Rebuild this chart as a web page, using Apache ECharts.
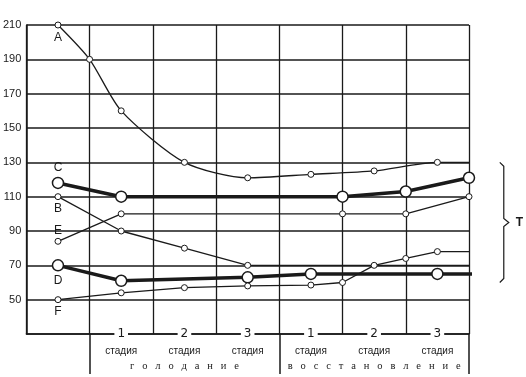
<!DOCTYPE html>
<html>
<head>
<meta charset="UTF-8">
<script src="https://cdn.jsdelivr.net/npm/echarts@6/dist/echarts.min.js"></script>
<style>
  html, body { margin: 0; padding: 0; background: #fff; }
  #gen { width: 526px; height: 377px; }
</style>
</head>
<body>
<div id="gen"></div>
<script>
// x positions are in column units: 0.5 = first column centre, 1 = first grid line, ...
const stagePos = [1.5, 2.5, 3.5, 4.5, 5.5, 6.5];
const stageLabels = ['1', '2', '3', '1', '2', '3'];
const periodPos = [2.5, 5.5];
const periodLabels = ['голодание', 'восстановление'];
const periodBounds = [1, 4, 7];

const xA = [0.5, 1, 1.5, 2.5, 3.5, 4.5, 5.5, 6.5, 7.37];
const yA = [210, 190, 160, 130, 121, 123, 125, 130, 130];
const xC = [0.5, 1.5, 5, 6, 7, 7.37];
const yC = [118, 110, 110, 113, 121, 121];
const xB = [0.5, 1.5, 2.5, 3.5, 7.37];
const yB = [110, 90, 80, 70, 70];
const xE = [0.5, 1.5, 5, 6, 7, 7.37];
const yE = [84, 100, 100, 100, 110, 110];
const xD = [0.5, 1.5, 3.5, 4.5, 6.5, 7.37];
const yD = [70, 61, 63, 65, 65, 65];
const xF = [0.5, 1.5, 2.5, 3.5, 4.5, 5, 5.5, 6, 6.5, 7.37];
const yF = [50, 54, 57, 58, 58.5, 60, 70, 74, 78, 78];

const ink = '#1a1a1a';

function line(name, xs, ys, thick, labelPos, dist, smooth) {
  const data = xs.map(function (x, i) {
    const item = { value: [x, ys[i]] };
    if (x > 7) item.symbol = 'none';
    if (i === 0) {
      item.label = {
        show: true, position: labelPos, distance: dist,
        formatter: name, color: ink, fontSize: 12, fontFamily: 'Liberation Sans'
      };
    }
    return item;
  });
  return {
    type: 'line', name: name, data: data, clip: false, smooth: smooth || false,
    symbol: 'circle', symbolSize: thick ? 11 : 6,
    lineStyle: { color: ink, width: thick ? 3.5 : 1.3 },
    itemStyle: { color: '#fff', borderColor: ink, borderWidth: thick ? 1.5 : 1 },
    z: thick ? 3 : 4,
    animation: false
  };
}

const chart = echarts.init(document.getElementById('gen'));
chart.setOption({
  backgroundColor: '#fff',
  animation: false,
  grid: { left: 25, right: 57, top: 25, bottom: 43 },
  xAxis: [
    {
      type: 'value', min: 0, max: 7, interval: 1,
      axisLine: { show: true, lineStyle: { color: ink, width: 1.5 } },
      axisTick: { show: false },
      splitLine: { show: true, lineStyle: { color: ink, width: 1.3 } },
      axisLabel: {
        show: true, customValues: stagePos, margin: -7,
        showMinLabel: true, showMaxLabel: true,
        formatter: function (v) {
          return '{n|' + stageLabels[stagePos.indexOf(v)] + '}\n{s|стадия}';
        },
        rich: {
          n: { fontSize: 12, color: ink, backgroundColor: '#fff', padding: [0, 3], lineHeight: 14, fontFamily: 'DejaVu Sans' },
          s: { fontSize: 10, color: ink, lineHeight: 21, fontFamily: 'Liberation Sans' }
        }
      }
    },
    {
      // long ticks under the axis that separate the two periods, plus the period names
      type: 'value', min: 0, max: 7, position: 'bottom',
      axisLine: { show: false },
      splitLine: { show: false },
      axisTick: { show: true, customValues: periodBounds, length: 40, lineStyle: { color: ink, width: 1.5 } },
      axisLabel: {
        show: true, customValues: periodPos, margin: 27,
        showMinLabel: true, showMaxLabel: true,
        color: ink, fontSize: 10.5, fontFamily: 'Liberation Serif',
        // spaced-out letters, as in the printed figure
        formatter: function (v) { return periodLabels[periodPos.indexOf(v)].split('').join('   '); }
      }
    }
  ],
  yAxis: {
    type: 'value', min: 30, max: 210, interval: 20,
    axisLine: { show: true, lineStyle: { color: ink, width: 1.5 } },
    axisTick: { show: false },
    splitLine: { show: true, lineStyle: { color: ink, width: 1.5 } },
    axisLabel: {
      color: ink, fontSize: 11, margin: 5, fontFamily: 'Liberation Sans',
      formatter: function (v) { return v < 50 ? '' : String(v); }
    }
  },
  series: [
    line('A', xA, yA, false, 'bottom', 3, 0.25),
    line('C', xC, yC, true, 'top', 3),
    line('B', xB, yB, false, 'bottom', 3),
    line('E', xE, yE, false, 'top', 1),
    line('D', xD, yD, true, 'bottom', 3),
    line('F', xF, yF, false, 'bottom', 3)
  ]
});

// bracket "T" on the right, placed from data coordinates
const brTop = chart.convertToPixel({ gridIndex: 0 }, [7.55, 130]);
const brBot = chart.convertToPixel({ gridIndex: 0 }, [7.55, 60]);
const brMid = (brTop[1] + brBot[1]) / 2;
const bx = brTop[0];
chart.setOption({
  graphic: [
    {
      type: 'polyline', silent: true,
      shape: { points: [[bx - 4, brTop[1]], [bx, brTop[1] + 4], [bx, brMid - 4], [bx + 5, brMid], [bx, brMid + 4], [bx, brBot[1] - 4], [bx - 4, brBot[1]]] },
      style: { stroke: ink, lineWidth: 1.2, fill: null }
    },
    {
      type: 'text', silent: true, x: bx + 12, y: brMid,
      style: { text: 'T', fill: ink, font: 'bold 12px Liberation Sans', textVerticalAlign: 'middle' }
    }
  ]
});
</script>
</body>
</html>
